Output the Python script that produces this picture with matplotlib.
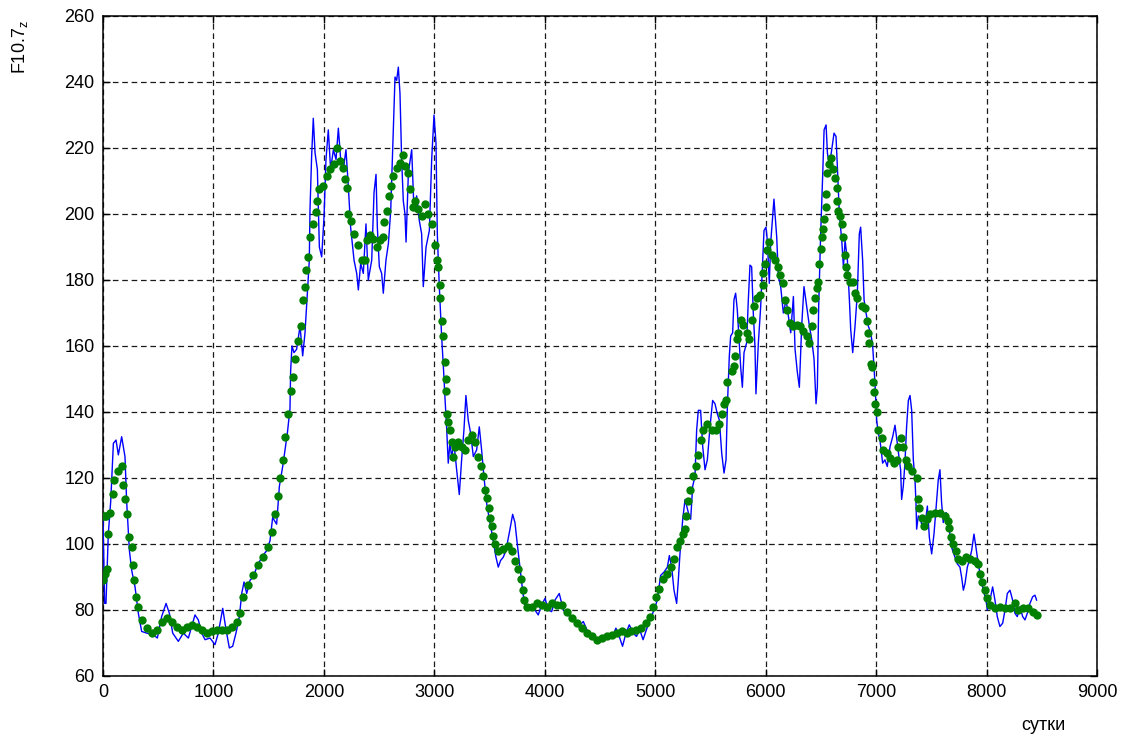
import numpy as np
import matplotlib
matplotlib.use("Agg")
import matplotlib.pyplot as plt

# 27-day values (blue line)
blue_days = [0, 15, 27, 48, 70, 94, 118, 139, 169, 199, 214, 239, 260, 290, 320, 350, 396, 456, 492, 531,
             571, 601, 631, 682, 727, 773, 803, 833, 863, 894, 924, 969, 1014, 1044, 1084, 1114, 1144, 1174, 1204, 1235,
             1256, 1277, 1301, 1331, 1361, 1392, 1437, 1482, 1512, 1536, 1572, 1597, 1627, 1648, 1669, 1693, 1699, 1711, 1729, 1753,
             1784, 1808, 1829, 1850, 1868, 1874, 1889, 1904, 1920, 1941, 1959, 1980, 2001, 2019, 2040, 2061, 2086, 2110, 2131, 2152,
             2176, 2200, 2221, 2242, 2273, 2297, 2312, 2333, 2357, 2381, 2402, 2433, 2454, 2472, 2484, 2502, 2523, 2538, 2562, 2584,
             2605, 2623, 2644, 2659, 2674, 2689, 2704, 2719, 2734, 2744, 2765, 2795, 2816, 2840, 2864, 2885, 2900, 2925, 2955, 2976,
             2997, 3015, 3027, 3045, 3066, 3088, 3096, 3111, 3126, 3141, 3157, 3178, 3202, 3226, 3247, 3268, 3286, 3307, 3329, 3353,
             3383, 3407, 3428, 3449, 3473, 3498, 3528, 3558, 3579, 3600, 3624, 3648, 3685, 3709, 3730, 3751, 3775, 3799, 3820, 3851,
             3881, 3911, 3941, 3971, 4002, 4032, 4062, 4092, 4131, 4168, 4213, 4258, 4303, 4349, 4394, 4439, 4484, 4530, 4575, 4620,
             4644, 4674, 4704, 4735, 4765, 4800, 4830, 4860, 4890, 4920, 4953, 4989, 5019, 5049, 5080, 5110, 5128, 5149, 5170, 5194,
             5209, 5224, 5249, 5270, 5300, 5321, 5339, 5360, 5375, 5390, 5411, 5430, 5451, 5472, 5496, 5520, 5541, 5562, 5581, 5602,
             5623, 5641, 5653, 5671, 5683, 5701, 5713, 5728, 5743, 5762, 5774, 5789, 5804, 5828, 5843, 5858, 5873, 5888, 5903, 5912,
             5934, 5955, 5973, 5985, 6003, 6015, 6033, 6045, 6063, 6075, 6100, 6115, 6136, 6160, 6185, 6206, 6227, 6251, 6266, 6287,
             6305, 6326, 6347, 6372, 6396, 6417, 6438, 6456, 6468, 6480, 6498, 6516, 6529, 6547, 6559, 6577, 6598, 6619, 6637, 6649,
             6667, 6689, 6704, 6719, 6740, 6758, 6770, 6788, 6809, 6830, 6848, 6860, 6878, 6891, 6909, 6930, 6951, 6969, 6990, 7005,
             7020, 7035, 7059, 7080, 7101, 7126, 7150, 7171, 7192, 7210, 7222, 7231, 7246, 7261, 7276, 7292, 7307, 7322, 7337, 7352,
             7361, 7367, 7382, 7403, 7421, 7442, 7464, 7482, 7503, 7524, 7542, 7563, 7578, 7593, 7608, 7633, 7654, 7675, 7693, 7714,
             7735, 7759, 7774, 7790, 7805, 7826, 7844, 7865, 7886, 7904, 7925, 7946, 7971, 7995, 8007, 8031, 8055, 8076, 8097, 8121,
             8146, 8167, 8188, 8212, 8236, 8257, 8278, 8302, 8327, 8348, 8369, 8393, 8417, 8438, 8453]
blue_flux = [108, 82, 82, 103, 113, 130.5, 131.5, 127, 132.5, 126.5, 113, 98, 92, 87, 79, 73.5, 73, 72.5, 71.5, 78,
             82, 79, 73, 70.5, 73, 71.5, 75, 78.5, 77, 73, 71, 71.5, 69.5, 73, 80.5, 74, 68.5, 69, 73, 78,
             85, 88.5, 85, 89, 90, 93, 96, 98, 101, 108, 106, 117.5, 123.5, 128.5, 133.5, 141, 152.5, 160, 158, 159,
             166, 157, 164, 176, 186, 201, 217.5, 229, 218.5, 213.5, 190, 187, 199, 216.5, 225.5, 213.5, 219.5, 216.5, 226, 216.5,
             213.5, 219.5, 208.5, 196, 186, 182, 177, 185, 182, 197, 180, 186, 206.5, 212, 196, 184, 182, 176, 186, 191,
             201, 219.5, 241.5, 240.5, 244.5, 236.5, 216.5, 204, 200, 191.5, 212.5, 219.5, 201, 205.5, 198, 194, 178, 190, 195, 216.5,
             230, 221.5, 194, 178, 163, 150, 144.5, 135.5, 124.5, 130.5, 126.5, 130.5, 122.5, 115, 125.5, 134.5, 145, 137.5, 133.5, 126.5,
             128.5, 135.5, 128.5, 120.5, 112.5, 107.5, 102, 96, 93, 95, 96, 98, 104.5, 109, 106.5, 100, 93, 86, 81, 80,
             81, 80, 78.5, 81.5, 83.5, 80, 79.5, 83, 85, 80, 78.5, 77, 75, 76.5, 73, 72, 70.5, 71, 72, 72.5,
             74.5, 72, 69, 73, 75.5, 73, 72, 74, 71, 74, 77, 80, 83, 90.5, 91.5, 93, 96.5, 93, 86, 82,
             89, 97, 107.5, 113.5, 109.5, 107.5, 117.5, 120.5, 134.5, 140.5, 140.5, 129.5, 122.5, 125.5, 135.5, 143.5, 142.5, 139.5, 137.5, 127.5,
             121.5, 125.5, 141.5, 157, 163, 164, 174, 176, 171, 160, 153.5, 147.5, 158, 161, 174, 184.5, 184, 170, 160, 145.5,
             161, 172, 186, 195, 196, 192, 179, 191, 199, 204.5, 193, 181, 178, 170, 174, 169, 164, 175, 159, 152,
             147.5, 166, 178, 172, 166, 162, 156, 142.5, 147.5, 172, 194, 211.5, 225.5, 227, 218.5, 214.5, 219.5, 224.5, 223.5, 214.5,
             200, 192, 184, 192, 186, 174, 165, 158, 166, 176, 194, 196, 186, 174, 170, 166, 164, 160, 148.5, 137.5,
             133.5, 131.5, 124.5, 125.5, 123.5, 129.5, 132.5, 136, 130.5, 125.5, 122.5, 113.5, 117.5, 124.5, 135.5, 143.5, 145, 140.5, 125.5, 119.5,
             112.5, 104.5, 108.5, 107.5, 104.5, 105.5, 111.5, 102, 97, 103, 110.5, 119.5, 122.5, 112.5, 106.5, 109.5, 108.5, 100, 98, 96,
             94, 93, 90, 86, 88, 93, 95, 98, 103, 99, 94, 90, 86, 83, 80, 83, 87, 83, 78, 75,
             76, 80, 85, 86, 83, 79, 78, 81, 78, 77, 79, 82, 84, 84.5, 83]

# smoothed values (green dots)
green_days = [0, 15, 30, 0, 15, 33, 48, 64, 88, 103, 139, 169, 178, 199, 214, 239, 260, 269, 284, 299,
              320, 350, 396, 441, 486, 531, 577, 622, 667, 712, 758, 803, 848, 894, 939, 984, 1029, 1075, 1120, 1165,
              1210, 1241, 1271, 1316, 1361, 1407, 1452, 1497, 1527, 1557, 1588, 1603, 1633, 1648, 1678, 1699, 1723, 1738, 1769, 1790,
              1808, 1829, 1838, 1859, 1874, 1898, 1929, 1941, 1959, 1995, 2025, 2055, 2092, 2122, 2146, 2176, 2191, 2206, 2221, 2242,
              2273, 2312, 2342, 2372, 2387, 2418, 2448, 2478, 2508, 2538, 2544, 2568, 2593, 2608, 2629, 2659, 2689, 2713, 2734, 2765,
              2780, 2804, 2825, 2855, 2885, 2916, 2946, 2976, 3006, 3021, 3036, 3051, 3055, 3066, 3075, 3097, 3105, 3110, 3115, 3126,
              3141, 3157, 3172, 3187, 3217, 3247, 3277, 3307, 3338, 3368, 3398, 3419, 3443, 3458, 3473, 3498, 3504, 3519, 3534, 3549,
              3579, 3624, 3670, 3700, 3730, 3760, 3781, 3799, 3814, 3836, 3881, 3926, 3971, 4017, 4062, 4107, 4153, 4198, 4243, 4288,
              4334, 4379, 4424, 4469, 4515, 4560, 4605, 4650, 4696, 4741, 4785, 4830, 4875, 4915, 4953, 4977, 5007, 5037, 5074, 5110,
              5140, 5170, 5194, 5224, 5255, 5270, 5279, 5300, 5315, 5339, 5369, 5390, 5411, 5436, 5472, 5511, 5550, 5581, 5602, 5623,
              5641, 5653, 5692, 5713, 5722, 5738, 5753, 5774, 5798, 5828, 5852, 5873, 5895, 5919, 5949, 5973, 5979, 5994, 6009, 6033,
              6054, 6085, 6115, 6130, 6154, 6175, 6196, 6220, 6250, 6281, 6311, 6341, 6371, 6395, 6417, 6432, 6447, 6462, 6477, 6486,
              6498, 6507, 6516, 6531, 6546, 6550, 6559, 6577, 6589, 6607, 6628, 6643, 6649, 6658, 6673, 6689, 6704, 6719, 6728, 6740,
              6764, 6794, 6809, 6830, 6870, 6900, 6915, 6930, 6939, 6951, 6960, 6969, 6981, 6990, 7005, 7020, 7050, 7065, 7095, 7126,
              7162, 7186, 7201, 7222, 7246, 7270, 7292, 7322, 7367, 7382, 7391, 7412, 7433, 7458, 7488, 7533, 7578, 7624, 7654, 7660,
              7675, 7699, 7723, 7744, 7774, 7814, 7850, 7895, 7925, 7940, 7955, 7986, 8007, 8031, 8076, 8121, 8167, 8212, 8257, 8287,
              8333, 8378, 8423, 8459]
green_flux = [108.5, 108.5, 108.5, 89, 91, 92.5, 103, 109.5, 115, 119.5, 122, 123.5, 118, 113.5, 109, 102, 99, 93.5, 89, 84,
              81, 77, 74.5, 73, 74, 76.5, 77.5, 76.5, 75, 74, 75, 75.5, 75, 74, 73, 73.5, 74, 74, 74, 75,
              76.5, 79, 84, 87.5, 90.5, 93.5, 96, 99, 103.5, 109, 114.5, 120, 125.5, 132.5, 139.5, 146.5, 150.5, 156, 161.5, 166,
              174, 178, 183, 187, 193, 197, 200.5, 204, 207.5, 208.5, 211.5, 213.5, 215, 220, 216, 214, 210.5, 208, 200, 198,
              194, 190.5, 186, 186, 192, 193.5, 192.5, 190, 192, 193, 197.5, 201, 205.5, 208.5, 211.5, 214, 215.5, 218, 214.5, 212.5,
              207.5, 202, 204, 201.5, 199.5, 203, 200, 197, 190.5, 186, 184, 178.5, 174.5, 167.5, 163, 155, 150, 146.5, 139.5, 137,
              134.5, 131, 126.5, 129.5, 131, 129.5, 128.5, 131.5, 133, 131, 126.5, 123.5, 120.5, 116.5, 114, 111, 108, 105.5, 102.5, 100,
              98, 98.5, 99.5, 98, 95, 92.5, 89.5, 86, 83, 81, 81, 82, 81.5, 81, 82, 81.5, 81.5, 79.5, 77.5, 76,
              74.5, 73, 72, 71, 71.5, 72, 72.5, 73, 73.5, 73, 73.5, 74, 74.5, 76, 78, 81, 84, 86.5, 89.5, 91,
              93, 95.5, 99, 101, 103, 104.5, 108.5, 113, 116.5, 120.5, 123.5, 127, 131.5, 134.5, 136.5, 134.5, 134.5, 136.5, 139.5, 142.5,
              143.5, 149, 152.5, 154, 157, 162, 164, 168, 166.5, 164, 162, 168, 172, 174.5, 175.5, 178.5, 182, 185, 189, 191.5,
              187.5, 186, 184, 181.5, 179, 174, 171, 167, 166, 166.5, 166, 164.5, 163, 161, 166, 171, 174.5, 177.5, 179.5, 185,
              189.5, 193, 195.5, 198.5, 202, 206, 212.5, 215, 217, 213.5, 211, 208, 204, 201, 199.5, 197, 193, 187.5, 184, 181.5,
              179.5, 179.5, 176, 174.5, 172, 171.5, 167.5, 164, 161, 154.5, 153.5, 149, 146, 142.5, 140, 134.5, 132, 128.5, 127.5, 126,
              124.5, 125.5, 129.5, 132, 129.5, 125.5, 123.5, 122, 120, 113.5, 111, 108, 105.5, 107.5, 109, 109.5, 109.5, 108.5, 107, 105,
              102, 100, 98, 95.5, 95, 96, 95.5, 95, 94, 91, 88.5, 86, 83.5, 81.5, 80.5, 81, 80.5, 80.5, 82, 80,
              80.5, 80.5, 79.5, 78.5]

x_ticks = np.arange(0, 9001, 1000)
y_ticks = np.arange(60, 261, 20)

plt.rcParams['font.family'] = ['Liberation Sans', 'DejaVu Sans']

fig = plt.figure(figsize=(11.23, 7.36), dpi=100)
ax = fig.add_axes([103 / 1123, 1 - 676 / 736, 994 / 1123, 660 / 736])

ax.plot(blue_days, blue_flux, color='#0000ff', linewidth=1.0, zorder=3)
ax.plot(green_days, green_flux, linestyle='none', marker='o', markersize=6,
        markerfacecolor='#008000', markeredgecolor='#008000', markeredgewidth=0, zorder=4)

ax.set_xlim(0, 9000)
ax.set_ylim(60, 260)
ax.set_xticks(x_ticks)
ax.set_yticks(y_ticks)
ax.tick_params(direction='in', length=5, width=1, top=True, right=True,
               labelsize=13, pad=6, colors='black')
ax.grid(True, color='#1a1a1a', linestyle=(0, (4.5, 3.0)), linewidth=0.9, zorder=1)
for sp in ax.spines.values():
    sp.set_linewidth(1.1)
    sp.set_color('black')

fig.text(20 / 1123, 1 - 20 / 736, r'$\mathregular{F10.7_z}$', rotation=90,
         ha='center', va='top', fontsize=13)
fig.text(1043 / 1123, 1 - 726 / 736, 'сутки', ha='center', va='center', fontsize=13)

fig.savefig('out.png', dpi=100, facecolor='white')
